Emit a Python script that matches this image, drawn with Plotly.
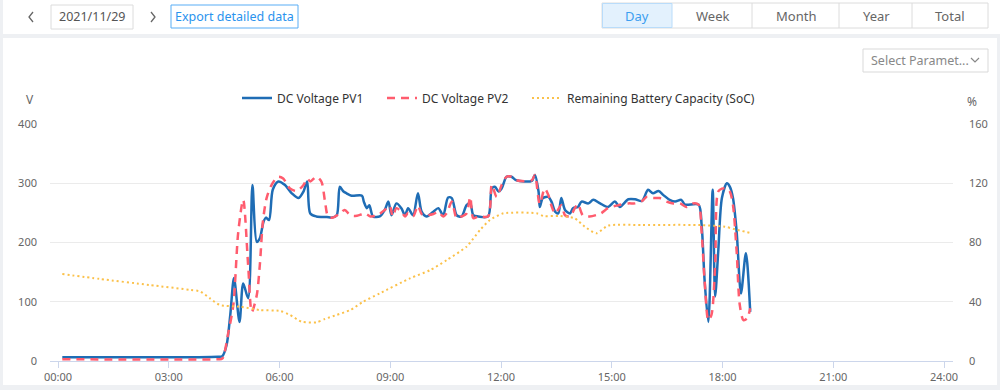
import plotly.graph_objects as go

# ---------------- data ----------------
pv1_time = ["00:07","04:20","04:27","04:34","04:40","04:46","04:55","05:01","05:09","05:16",
            "05:23","05:28","05:34","05:38","05:43","05:49","05:58","06:09","06:20","06:31",
            "06:39","06:45","06:50","07:00","07:17","07:25","07:33","07:38","07:44","07:49",
            "07:57","08:14","08:17","08:22","08:26","08:32","08:43","08:51","08:57","09:02",
            "09:10","09:18","09:24","09:29","09:37","09:45","09:51","09:59","10:10","10:18",
            "10:26","10:34","10:40","10:48","10:56","11:04","11:10","11:15","11:23","11:39",
            "11:45","11:50","11:56","12:01","12:09","12:17","12:25","12:50","12:55","13:01",
            "13:03","13:08","13:17","13:22","13:28","13:33","13:38","13:44","13:52","13:57",
            "14:05","14:11","14:22","14:30","14:41","14:54","15:05","15:13","15:27","15:38",
            "15:49","15:59","16:07","16:16","16:24","16:34","16:43","16:53","16:59","17:21",
            "17:26","17:31","17:37","17:44","17:48","17:53","17:59","18:07","18:12","18:17",
            "18:23","18:30","18:38","18:45"]
pv1_volt = [6.5, 7, 8, 27, 78, 140, 66, 131, 106, 297,
            201, 207, 235, 242, 238, 289, 303, 297, 283, 275,
            286, 303, 249, 244, 243, 242, 246, 294, 286, 283,
            279, 279, 269, 258, 263, 244, 244, 255, 269, 246,
            266, 258, 246, 258, 246, 283, 252, 244, 252, 258,
            246, 276, 275, 246, 244, 263, 266, 246, 244, 244,
            291, 294, 286, 291, 311, 311, 305, 304, 314, 286,
            260, 275, 277, 269, 252, 249, 275, 255, 249, 258,
            260, 269, 266, 272, 266, 260, 269, 260, 273, 273,
            270, 289, 283, 287, 280, 272, 269, 272, 264, 264,
            230, 134, 66, 289, 109, 184, 275, 300, 294, 275,
            218, 114, 182, 83]

pv2_time = ["00:07","04:20","04:27","04:37","04:45","04:53","05:01","05:09","05:15","05:23",
            "05:28","05:33","05:39","05:47","05:58","06:06","06:17","06:28","06:39","06:45",
            "06:50","07:00","07:08","07:14","07:19","07:27","07:38","07:46","07:55","08:06",
            "08:19","08:28","08:39","08:51","08:59","09:04","09:10","09:18","09:24","09:29",
            "09:37","09:45","09:51","09:59","10:10","10:18","10:26","10:32","10:40","10:48",
            "10:56","11:04","11:10","11:15","11:23","11:39","11:45","11:53","12:01","12:09",
            "12:17","12:25","12:50","12:55","13:03","13:11","13:17","13:22","13:28","13:38",
            "13:44","13:52","14:00","14:05","14:13","14:24","14:42","14:54","15:11","15:27",
            "15:38","15:49","15:57","16:07","16:18","16:29","16:40","16:51","17:01","17:12",
            "17:21","17:26","17:31","17:37","17:42","17:48","17:53","17:59","18:07","18:12",
            "18:17","18:23","18:28","18:34","18:40","18:45"]
pv2_volt = [3, 3, 4, 49, 95, 218, 272, 162, 83, 111,
            162, 235, 275, 297, 311, 308, 291, 287, 297, 308,
            303, 311, 303, 269, 244, 242, 249, 255, 246, 245,
            249, 244, 246, 255, 262, 244, 258, 252, 244, 250,
            244, 262, 248, 246, 248, 252, 244, 250, 269, 241,
            244, 249, 277, 241, 244, 244, 297, 277, 297, 311,
            311, 305, 305, 314, 265, 291, 280, 262, 249, 263,
            246, 244, 258, 265, 246, 244, 249, 258, 263, 266,
            266, 270, 277, 275, 275, 269, 266, 266, 260, 266,
            264, 218, 134, 69, 78, 162, 286, 291, 291, 286,
            263, 184, 95, 69, 72, 89]

soc_time = ["00:07","01:08","02:29","03:35","03:51","04:07","04:23","04:56","05:28","06:01",
            "06:17","06:36","07:00","07:14","07:33","07:55","08:16","08:43","09:32","10:05",
            "10:32","11:04","11:26","11:42","12:04","12:58","13:09","13:36","14:00","14:16",
            "14:35","14:54","15:49","17:21","18:04","18:20","18:45"]
soc_pct = [58.7, 55.4, 51.3, 48, 47, 42.3, 37.8, 36.7, 34.4, 33.8,
           31.1, 26.5, 26.1, 28.4, 31.1, 34.4, 40, 45.7, 55.8, 61.4,
           68.2, 77.2, 88.5, 95.2, 99.7, 99.7, 97.9, 97.9, 96.3, 90.7,
           86.2, 91.4, 91.8, 91.8, 90.7, 88.9, 86.5]

tick_hours = [0, 3, 6, 9, 12, 15, 18, 21, 24]
tick_labels = ["00:00", "03:00", "06:00", "09:00", "12:00", "15:00", "18:00", "21:00", "24:00"]
left_ticks = [0, 100, 200, 300, 400]
right_ticks = [0, 40, 80, 120, 160]


def hours(t):
    h, m = t.split(":")
    return int(h) + int(m) / 60.0


# ---------------- geometry helpers (layout only) ----------------
W, H = 1000, 390
L, R, T, B = 50, 47, 124, 29
PW, PH = W - L - R, H - T - B


def px(x):
    return (x - L) / PW


def py(y):
    return (H - B - y) / PH


FONT = "Noto Sans, Open Sans, sans-serif"

fig = go.Figure()
fig.add_trace(go.Scatter(
    x=[hours(t) for t in pv1_time], y=pv1_volt, name="DC Voltage PV1", mode="lines",
    legend="legend",
    line=dict(color="#1f6db5", width=2.5, shape="spline", smoothing=0.8)))
fig.add_trace(go.Scatter(
    x=[hours(t) for t in pv2_time], y=pv2_volt, name="DC Voltage PV2", mode="lines",
    legend="legend2",
    line=dict(color="#ff5c6e", width=2.5, dash="8px,6px", shape="spline", smoothing=0.8)))
fig.add_trace(go.Scatter(
    x=[hours(t) for t in soc_time], y=soc_pct, name="Remaining Battery Capacity (SoC)",
    mode="lines", yaxis="y2", legend="legend3",
    line=dict(color="#fbc14a", width=2, dash="2px,3px", shape="spline", smoothing=0.6)))

shapes = []
annos = []


def rect(x0, y0, x1, y1, fill="rgba(0,0,0,0)", line=None, lw=1, layer="below"):
    shapes.append(dict(type="rect", xref="paper", yref="paper",
                       x0=px(x0), x1=px(x1), y0=py(y1), y1=py(y0),
                       fillcolor=fill, layer=layer,
                       line=dict(color=line if line else "rgba(0,0,0,0)", width=lw if line else 0)))


def vline(x, y0, y1, color):
    shapes.append(dict(type="line", xref="paper", yref="paper",
                       x0=px(x), x1=px(x), y0=py(y0), y1=py(y1),
                       line=dict(color=color, width=1)))


def chevron(pts, color="#666", lw=1.3):
    path = "M " + " L ".join(f"{px(a):.5f},{py(b):.5f}" for a, b in pts)
    shapes.append(dict(type="path", xref="paper", yref="paper", path=path,
                       line=dict(color=color, width=lw)))


def text(x, y, s, size=12, color="#666", anchor="center"):
    annos.append(dict(xref="paper", yref="paper", x=px(x), y=py(y), text=s,
                      showarrow=False, xanchor=anchor, yanchor="middle",
                      font=dict(family=FONT, size=size, color=color)))


# page background strips
GRAY = "#eef0f3"
rect(0, 0, 3, 390, fill=GRAY)
rect(0, 34, 1000, 38, fill=GRAY)
rect(0, 385, 1000, 390, fill=GRAY)
rect(997, 38, 1000, 390, fill=GRAY)

# toolbar
chevron([(33, 12), (29, 17), (33, 22)])
rect(51, 5, 133, 29, line="#dcdcdc")
text(92, 17, "2021/11/29", size=12.5, color="#555")
chevron([(151, 12), (155, 17), (151, 22)])
rect(171, 5, 298, 28, line="#58adf5")
text(234.5, 16.5, "Export detailed data", size=12.5, color="#2a93ee")

# segmented control
rect(602, 3, 988, 28, line="#dcdcdc")
rect(602.5, 3.5, 672, 27.5, fill="#e3f1fd", line="#b9dcfa")
for xd in [752, 839, 912]:
    vline(xd, 3, 28, "#dcdcdc")
text(637, 16, "Day", size=13, color="#3c9ef0")
text(712, 16, "Week", size=13, color="#666")
text(796, 16, "Month", size=13, color="#666")
text(876, 16, "Year", size=13, color="#666")
text(950, 16, "Total", size=13, color="#666")

# dropdown
rect(863, 49, 988, 72, line="#d9d9d9")
text(869, 61, "Select Paramet...", size=12.5, color="#888", anchor="left")
chevron([(971, 58), (975, 62), (979, 58)], color="#888", lw=1.2)

# axis names
text(30, 100, "V", size=12, color="#666")
text(972, 101, "%", size=12, color="#666")


def leg(x):
    return dict(orientation="h", x=px(x), xanchor="left", y=py(98), yanchor="middle",
                font=dict(family=FONT, size=12, color="#333"),
                bgcolor="rgba(0,0,0,0)", itemwidth=30)


fig.update_layout(
    width=W, height=H,
    margin=dict(l=L, r=R, t=T, b=B, pad=0, autoexpand=False),
    paper_bgcolor="white", plot_bgcolor="white",
    font=dict(family=FONT, size=12, color="#666"),
    showlegend=True,
    legend=leg(237), legend2=leg(382), legend3=leg(527),
    xaxis=dict(range=[-0.2167, 24.243], tickmode="array", tickvals=tick_hours,
               ticktext=tick_labels, showgrid=False, zeroline=False, automargin=False,
               showline=True, linecolor="#ccd6eb", linewidth=1,
               ticks="outside", ticklen=6, tickcolor="#ccd6eb",
               tickfont=dict(family=FONT, size=11, color="#666")),
    yaxis=dict(range=[0, 400], tickmode="array", tickvals=left_ticks, automargin=False,
               showgrid=True, gridcolor="#ebebeb", gridwidth=1, zeroline=False,
               showline=False, ticks="", ticklabelstandoff=12,
               tickfont=dict(family=FONT, size=11, color="#666")),
    yaxis2=dict(range=[0, 160], tickmode="array", tickvals=right_ticks, automargin=False,
                overlaying="y", side="right", showgrid=False, zeroline=False,
                showline=False, ticks="", ticklabelstandoff=15,
                tickfont=dict(family=FONT, size=11, color="#666")),
    shapes=shapes, annotations=annos,
)

fig.write_html("out.html")
